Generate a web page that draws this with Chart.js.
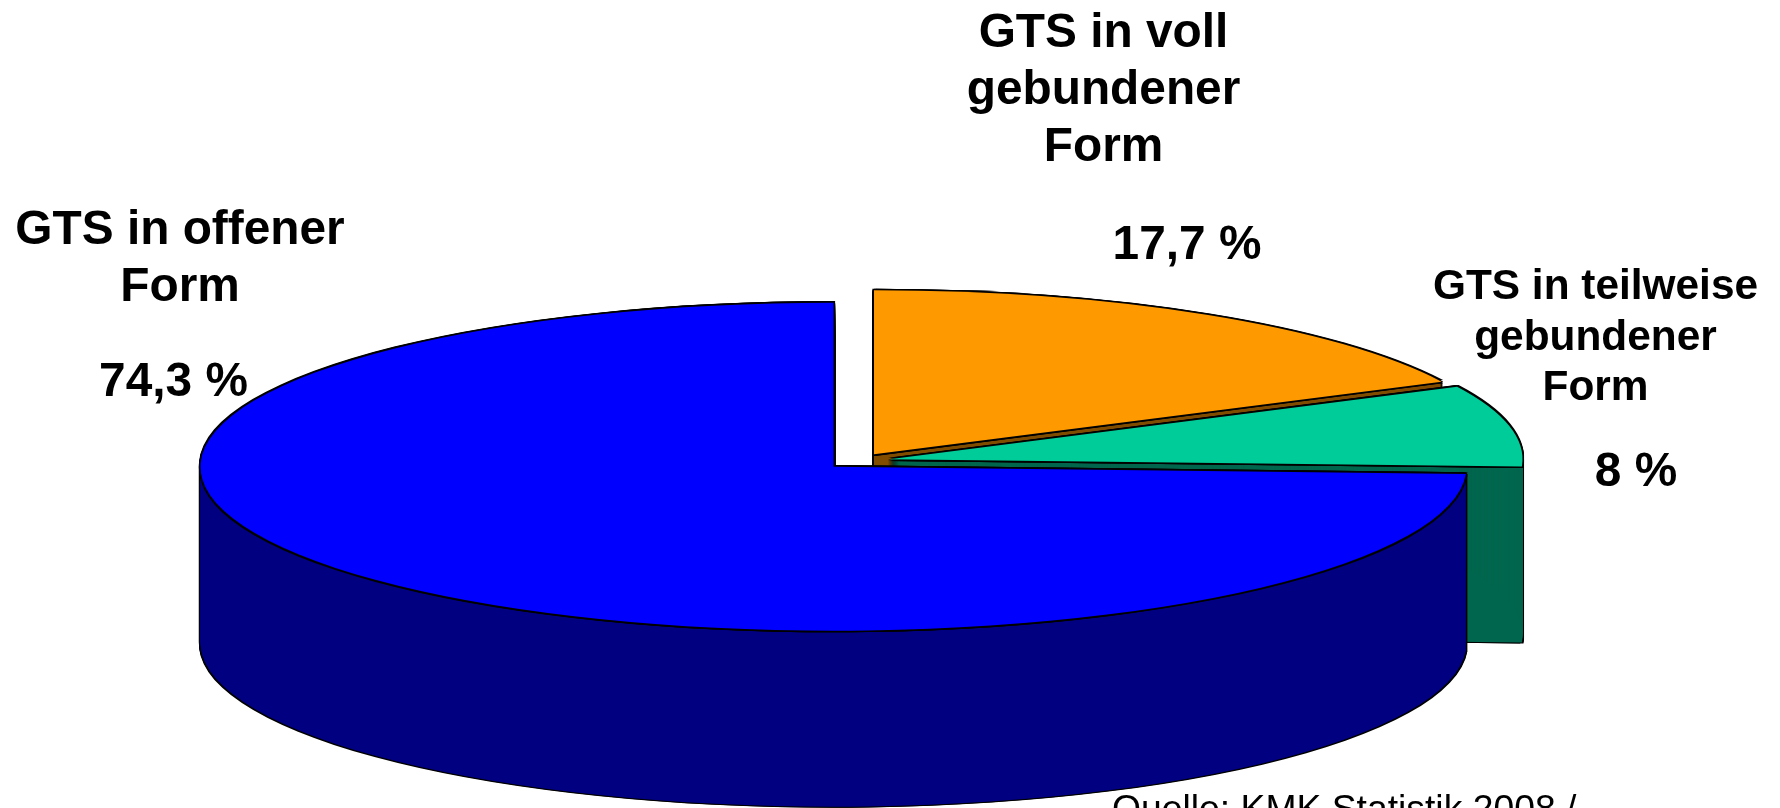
<!DOCTYPE html>
<html lang="de">
<head>
<meta charset="utf-8">
<title>Ganztagsschulen</title>
<style>
html,body{margin:0;padding:0;background:#fff;overflow:hidden}
#wrap{position:absolute;left:0;top:0;width:1780px;height:808px}
</style>
<script src="https://cdn.jsdelivr.net/npm/chart.js@4"></script>
</head>
<body>
<div id="wrap"><canvas id="c" width="1780" height="808"></canvas></div>
<script>
const categories = ['GTS in voll gebundener Form', 'GTS in teilweise gebundener Form', 'GTS in offener Form'];
const shares = [17.7, 8, 74.3];
const shareLabels = ['17,7 %', '8 %', '74,3 %'];
const topColors = ['#FF9900', '#00CC99', '#0000FF'];
const sideColors = ['#804D00', '#00664D', '#000080'];

const view = {
  rx: 633, ry: 164, depth: 176,
  anchors: [[874, 454.3], [889.5, 459.3], [833.5, 466.7]]
};
const textBlocks = [
  {x: 1103.5, size: 47.8, lh: 57, y: 47,  lines: ['GTS in voll', 'gebundener', 'Form']},
  {x: 1187,   size: 47.8, lh: 0,  y: 259, lines: [shareLabels[0]]},
  {x: 1595.5, size: 42.4, lh: 50.5, y: 299, lines: ['GTS in teilweise', 'gebundener', 'Form']},
  {x: 1636,   size: 47.8, lh: 0,  y: 486, lines: [shareLabels[1]]},
  {x: 180,    size: 47.8, lh: 57, y: 244, lines: ['GTS in offener', 'Form']},
  {x: 173.5,  size: 47.8, lh: 0,  y: 396, lines: [shareLabels[2]]}
];

const pie3d = {
  id: 'pie3d',
  beforeDatasetDraw(chart, args) {
    const ctx = chart.ctx;
    const arcs = chart.getDatasetMeta(args.index).data;
    arcs.forEach((arc, i) => {
      const [ax, ay] = view.anchors[i];
      const k = view.rx / arc.outerRadius;
      const paint = (dx, dy, color) => {
        const proxy = Object.create(arc);
        proxy.options = Object.assign({}, arc.options, {backgroundColor: color, borderWidth: 0, offset: 0});
        ctx.save();
        ctx.translate(ax + dx, ay + dy);
        ctx.scale(k, view.ry / arc.outerRadius);
        ctx.translate(-arc.x, -arc.y);
        arc.draw.call(proxy, ctx);
        ctx.restore();
      };
      const e = 1.6;
      for (let d = 0; d <= view.depth + e; d += 1) {
        paint(-e, d, '#000'); paint(e, d, '#000');
      }
      for (let d = 0; d <= view.depth; d += 1) {
        paint(0, d, sideColors[i]);
      }
      [[-e,0],[e,0],[0,-e],[0,e],[-e,-e],[e,-e],[-e,e],[e,e]].forEach(s => paint(s[0], s[1], '#000'));
      paint(0, 0, topColors[i]);
    });
    return false;
  },
  afterDraw(chart) {
    const ctx = chart.ctx;
    ctx.save();
    ctx.fillStyle = '#000';
    ctx.textAlign = 'center';
    ctx.textBaseline = 'alphabetic';
    textBlocks.forEach(b => {
      ctx.font = 'bold ' + b.size + 'px "Liberation Sans"';
      b.lines.forEach((t, j) => ctx.fillText(t, b.x, b.y + j * b.lh));
    });
    ctx.textAlign = 'left';
    ctx.font = '37.3px "Liberation Sans"';
    ctx.fillText('Quelle: KMK Statistik 2008 /', 1112, 821);
    ctx.restore();
  }
};

new Chart(document.getElementById('c'), {
  type: 'pie',
  data: {
    labels: categories,
    datasets: [{data: shares, backgroundColor: topColors, borderWidth: 0}]
  },
  options: {
    responsive: false,
    animation: false,
    layout: {padding: 0},
    plugins: {legend: {display: false}, tooltip: {enabled: false}, title: {display: false}}
  },
  plugins: [pie3d]
});
</script>
</body>
</html>
